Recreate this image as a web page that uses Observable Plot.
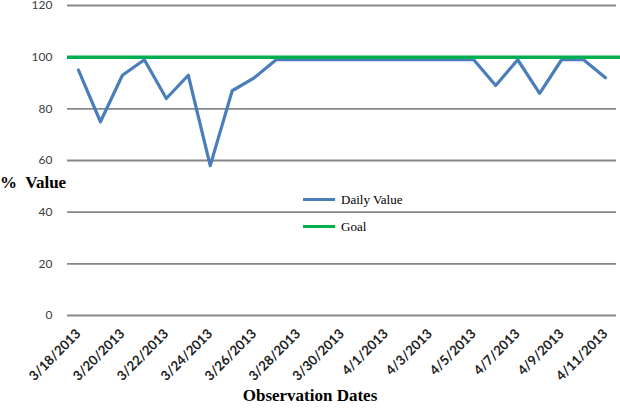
<!DOCTYPE html>
<html>
<head>
<meta charset="utf-8">
<script src="https://cdn.jsdelivr.net/npm/d3@7"></script>
<script src="https://cdn.jsdelivr.net/npm/@observablehq/plot@0.6"></script>
<style>
  body { margin: 0; background: #fff; }
  #wrap { position: relative; width: 620px; height: 409px; overflow: hidden; }
  #ytitle { position: absolute; left: 0px; top: 173px; font: bold 17px "Liberation Serif", serif; color: #000; white-space: pre; }
  #xtitle { position: absolute; left: 0; width: 620px; top: 386px; text-align: center; font: bold 17px "Liberation Serif", serif; color: #000; }
  #legend { position: absolute; left: 303px; top: 186px; font: 13px "Liberation Serif", serif; color: #000; }
  .item { display: flex; align-items: center; height: 27px; }
  .sw { width: 32px; height: 3px; margin-right: 6px; }
</style>
</head>
<body>
<div id="wrap">
  <div id="chart"></div>
  <div id="ytitle">%  Value</div>
  <div id="xtitle">Observation Dates</div>
  <div id="legend"></div>
</div>
<script>
const dates = ["3/18/2013","3/19/2013","3/20/2013","3/21/2013","3/22/2013","3/23/2013","3/24/2013","3/25/2013","3/26/2013","3/27/2013","3/28/2013","3/29/2013","3/30/2013","3/31/2013","4/1/2013","4/2/2013","4/3/2013","4/4/2013","4/5/2013","4/6/2013","4/7/2013","4/8/2013","4/9/2013","4/10/2013","4/11/2013"];
const dailyValue = [95, 75, 93, 99, 84, 93, 58, 87, 92, 99, 99, 99, 99, 99, 99, 99, 99, 99, 99, 89, 99, 86, 99, 99, 92];
const goal = [100];
const yTicks = [0, 20, 40, 60, 80, 100, 120];
const seriesNames = ["Daily Value", "Goal"];
const seriesColors = ["#4a7ebb", "#00b050"];

const data = dates.map((d, i) => ({i, date: d, value: dailyValue[i]}));
const xTicks = dates.map((d, i) => i).filter(i => i % 2 === 0);

const chart = Plot.plot({
  width: 620,
  height: 380,
  marginLeft: 67,
  marginRight: 4,
  marginTop: 5,
  marginBottom: 65,
  style: {fontFamily: "Lato, sans-serif", background: "#fff", overflow: "visible"},
  x: {type: "linear", domain: [-0.5, dates.length - 0.5]},
  y: {domain: [0, 120]},
  marks: [
    Plot.gridY(yTicks, {stroke: "#878787", strokeOpacity: 1, strokeWidth: 1.8}),
    Plot.axisY(yTicks, {tickSize: 0, tickPadding: 15, label: null, fontSize: 12, fill: "#404040"}),
    Plot.axisX(xTicks, {tickSize: 0, tickPadding: 16, tickRotate: -45, tickFormat: i => dates[i], label: null, fontSize: 13.3, fontWeight: "bold", fill: "#222", dx: 0}),
    Plot.line(data, {x: "i", y: "value", stroke: seriesColors[0], strokeWidth: 3.2}),
    Plot.ruleY(goal, {stroke: seriesColors[1], strokeWidth: 3.5, insetRight: -4})
  ]
});
document.getElementById("chart").appendChild(chart);

const legend = document.getElementById("legend");
seriesNames.forEach((n, k) => {
  const it = document.createElement("div");
  it.className = "item";
  it.innerHTML = `<span class="sw" style="background:${seriesColors[k]}"></span><span>${n}</span>`;
  legend.appendChild(it);
});
</script>
</body>
</html>
